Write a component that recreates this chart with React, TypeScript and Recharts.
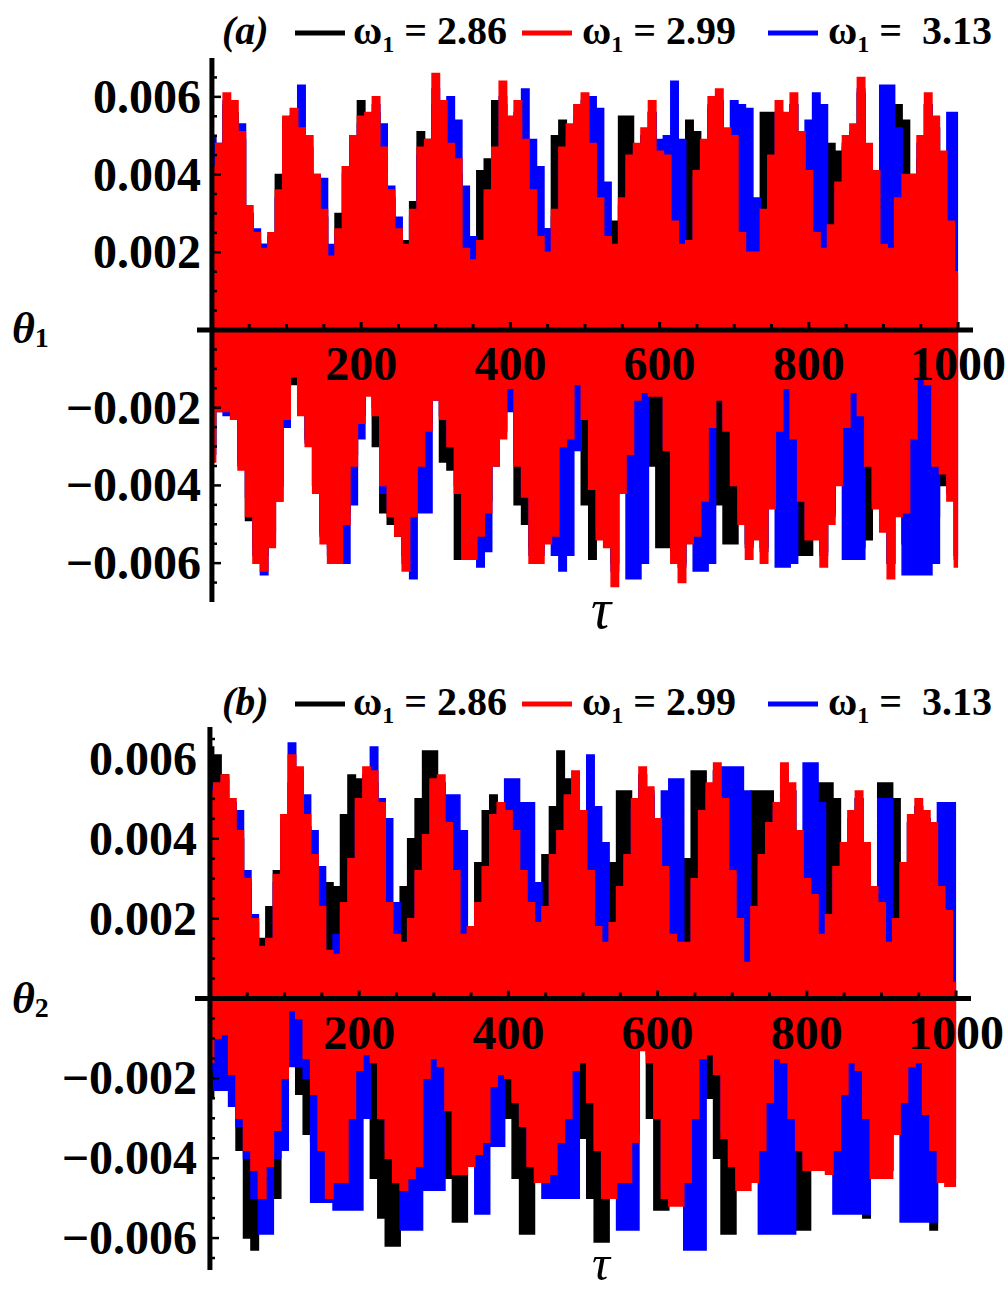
import React from "react";
import { ComposedChart, Area, XAxis, YAxis, ReferenceLine } from "recharts";

// sample times (tau), every 10 units
const tau = [
  0, 10, 20, 30, 40, 50, 60, 70, 80, 90, 100, 110, 120, 130, 140, 150, 160, 170, 180, 190,
  200, 210, 220, 230, 240, 250, 260, 270, 280, 290, 300, 310, 320, 330, 340, 350, 360, 370, 380, 390,
  400, 410, 420, 430, 440, 450, 460, 470, 480, 490, 500, 510, 520, 530, 540, 550, 560, 570, 580, 590,
  600, 610, 620, 630, 640, 650, 660, 670, 680, 690, 700, 710, 720, 730, 740, 750, 760, 770, 780, 790,
  800, 810, 820, 830, 840, 850, 860, 870, 880, 890, 900, 910, 920, 930, 940, 950, 960, 970, 980, 990, 1000,
];

// envelopes of the fast oscillation, in units of 1e-3
// panel (a): theta_1
const blackHiA = [
  5.0, 4.6, 5.8, 5.6, 4.9, 3.0, 2.3, 2.2, 2.4, 4.0, 5.4, 5.5, 5.0, 4.7, 3.8, 2.9, 2.0, 3.0, 4.2, 5.0,
  5.9, 5.5, 5.6, 4.5, 3.4, 2.5, 2.3, 3.3, 5.1, 4.9, 5.8, 5.4, 4.5, 4.0, 2.0, 2.0, 4.1, 4.4, 5.9, 5.8,
  5.3, 5.5, 4.6, 3.4, 2.3, 2.6, 5.0, 5.4, 5.2, 5.4, 5.8, 4.6, 3.2, 2.3, 2.8, 5.5, 5.5, 4.6, 5.0, 5.6,
  4.4, 4.2, 2.6, 3.0, 5.4, 5.1, 4.8, 5.7, 5.9, 5.0, 4.8, 2.4, 2.2, 2.6, 5.6, 5.6, 5.6, 5.3, 5.8, 4.9,
  3.9, 2.4, 2.5, 4.8, 4.6, 4.8, 5.1, 6.1, 4.6, 3.9, 2.1, 2.3, 5.8, 5.4, 4.0, 4.4, 5.8, 5.2, 4.4, 2.7, 1.4,
];
const blackLoA = [
  -3.0, -1.9, -1.6, -2.0, -3.4, -4.9, -5.6, -5.8, -5.2, -4.0, -2.2, -1.4, -2.0, -2.8, -4.0, -5.2, -5.6, -5.6, -4.7, -3.2,
  -2.2, -1.6, -3.0, -4.7, -5.0, -5.3, -5.8, -4.5, -3.2, -2.4, -1.7, -3.4, -3.6, -5.9, -5.6, -5.6, -5.0, -4.4, -3.2, -2.6,
  -1.6, -4.5, -5.0, -5.6, -5.6, -5.2, -5.0, -2.8, -2.6, -1.6, -4.5, -5.9, -5.2, -5.3, -6.0, -4.0, -3.0, -1.7, -1.5, -3.5,
  -5.6, -5.6, -5.6, -6.0, -5.2, -5.0, -4.1, -2.3, -4.5, -5.5, -5.5, -4.8, -5.5, -5.1, -5.6, -4.3, -2.4, -1.4, -4.5, -5.8,
  -5.8, -5.1, -5.7, -4.7, -3.8, -2.4, -3.5, -5.6, -5.4, -4.3, -4.9, -6.0, -4.5, -5.5, -5.5, -1.2, -3.0, -4.8, -4.0, -4.2, -5.8,
];
const redHiA = [
  4.2, 4.8, 6.1, 5.9, 5.1, 3.2, 2.5, 2.1, 2.5, 3.6, 5.5, 5.7, 5.2, 5.0, 4.0, 3.1, 1.9, 2.6, 4.2, 5.0,
  5.5, 5.6, 6.0, 4.7, 3.6, 2.6, 2.2, 3.1, 4.7, 4.9, 6.6, 5.9, 4.8, 4.4, 2.1, 1.8, 2.3, 3.6, 4.7, 6.4,
  5.5, 5.9, 4.9, 3.6, 2.4, 2.0, 3.1, 4.7, 5.3, 5.8, 6.1, 4.8, 3.4, 2.4, 2.2, 3.4, 4.5, 4.8, 5.2, 5.9,
  4.6, 4.5, 2.8, 2.2, 2.3, 4.1, 4.9, 6.0, 6.2, 5.2, 5.0, 2.5, 2.0, 2.0, 3.1, 4.5, 5.9, 5.6, 6.1, 5.1,
  4.1, 2.5, 2.1, 2.7, 3.8, 5.0, 5.3, 6.5, 4.8, 4.1, 2.2, 2.1, 3.4, 4.0, 4.0, 5.0, 6.1, 5.5, 4.6, 2.8, 1.5,
];
const redLoA = [
  -3.4, -2.1, -2.1, -2.3, -3.6, -4.8, -6.0, -6.2, -5.6, -4.4, -2.3, -1.2, -2.2, -3.0, -4.2, -5.5, -6.0, -6.0, -5.0, -3.5,
  -2.4, -1.7, -2.2, -4.0, -4.8, -5.3, -6.2, -4.8, -3.5, -2.6, -1.8, -2.3, -3.0, -4.2, -5.9, -5.9, -5.3, -4.7, -3.5, -2.8,
  -1.5, -3.5, -4.3, -6.0, -6.0, -5.5, -5.3, -3.0, -2.8, -1.4, -2.3, -4.1, -5.4, -5.6, -6.6, -4.2, -3.2, -1.8, -1.6, -1.7,
  -1.7, -3.1, -6.0, -6.5, -5.5, -5.3, -4.4, -2.5, -1.8, -2.6, -4.0, -5.0, -5.9, -5.4, -6.0, -4.6, -2.6, -1.5, -2.8, -4.4,
  -5.4, -5.4, -6.1, -5.0, -4.0, -2.5, -1.6, -2.2, -3.5, -4.6, -5.2, -6.4, -4.8, -4.7, -2.8, -1.2, -1.4, -3.5, -3.7, -4.4, -6.1,
];
const blueHiA = [
  5.0, 4.8, 5.9, 5.4, 5.3, 3.0, 2.6, 2.2, 2.3, 3.4, 5.2, 5.5, 6.3, 5.0, 4.0, 3.9, 2.2, 2.4, 4.0, 4.8,
  5.3, 5.4, 5.8, 5.3, 3.7, 2.9, 2.0, 2.9, 4.5, 4.7, 6.2, 5.6, 6.0, 5.4, 3.7, 2.4, 2.2, 3.4, 4.5, 6.0,
  5.2, 5.6, 6.2, 4.9, 4.2, 2.6, 2.9, 4.5, 5.0, 5.5, 5.9, 6.0, 5.7, 3.8, 2.1, 3.2, 4.3, 4.6, 5.0, 5.6,
  4.9, 5.0, 6.4, 4.9, 2.2, 3.9, 4.7, 5.8, 5.9, 5.0, 5.9, 5.8, 5.7, 3.4, 2.9, 4.3, 5.6, 5.4, 5.8, 4.2,
  5.4, 6.1, 5.8, 2.5, 3.6, 4.7, 5.0, 6.2, 4.5, 3.9, 6.3, 6.3, 5.2, 3.8, 3.8, 4.8, 5.8, 5.2, 4.4, 5.6, 5.6,
];
const blueLoA = [
  -3.2, -2.1, -2.2, -2.2, -3.5, -4.3, -5.8, -6.3, -5.5, -4.4, -2.5, -1.2, -1.3, -2.9, -4.0, -5.3, -5.8, -5.8, -6.0, -4.5,
  -2.8, -1.5, -2.0, -4.2, -4.6, -5.1, -6.0, -6.4, -4.7, -4.7, -1.8, -2.2, -2.9, -4.0, -5.6, -5.6, -6.1, -5.7, -3.5, -2.1,
  -2.1, -3.4, -4.2, -5.8, -5.8, -5.3, -5.8, -6.2, -5.8, -3.1, -2.2, -3.9, -5.2, -5.4, -6.2, -4.0, -6.4, -6.4, -6.0, -1.6,
  -1.6, -3.0, -5.7, -6.1, -5.3, -6.2, -6.2, -6.0, -1.4, -2.5, -3.8, -4.8, -5.6, -5.2, -5.7, -4.5, -6.1, -6.1, -6.0, -4.2,
  -5.2, -5.2, -5.8, -4.8, -3.9, -5.9, -5.9, -5.9, -3.4, -4.4, -5.0, -6.0, -4.6, -6.3, -6.3, -6.3, -6.3, -6.0, -3.6, -4.2, -5.9,
];

// panel (b): theta_2
const blackHiB = [
  6.3, 6.1, 5.6, 4.9, 4.0, 2.9, 1.9, 1.5, 2.3, 3.2, 4.4, 5.4, 5.6, 4.3, 3.4, 2.2, 2.9, 2.8, 4.6, 5.6,
  5.5, 5.6, 5.4, 4.5, 2.3, 1.5, 2.8, 4.0, 5.0, 6.2, 6.2, 5.4, 4.2, 3.0, 1.5, 1.7, 3.4, 4.7, 5.1, 4.7,
  4.5, 4.0, 3.0, 2.2, 1.8, 3.6, 4.8, 6.2, 5.5, 5.5, 4.5, 3.0, 1.7, 1.3, 3.4, 5.2, 5.2, 4.8, 5.6, 5.1,
  4.3, 3.1, 1.5, 1.3, 3.5, 5.7, 5.7, 5.2, 5.7, 4.8, 3.0, 1.9, 1.5, 5.2, 5.2, 5.2, 4.7, 5.6, 5.2, 4.0,
  2.9, 2.5, 5.4, 5.4, 5.0, 3.7, 4.5, 5.0, 3.7, 2.7, 5.4, 5.4, 5.0, 3.3, 4.4, 4.8, 4.5, 4.2, 2.7, 2.1, 0.4,
];
const blackLoB = [
  -2.5, -1.6, -1.4, -2.2, -3.8, -6.0, -6.3, -5.4, -5.0, -5.0, -2.5, -1.2, -2.4, -3.4, -3.6, -4.0, -4.8, -4.4, -4.2, -3.0,
  -1.8, -2.8, -4.5, -5.5, -6.2, -6.2, -4.6, -4.3, -4.0, -1.8, -1.4, -3.0, -4.5, -5.6, -5.6, -4.0, -3.7, -3.4, -2.0, -1.8,
  -3.0, -4.5, -5.9, -5.9, -4.4, -4.4, -4.2, -3.4, -2.8, -1.6, -3.5, -5.0, -6.1, -6.1, -4.8, -4.4, -4.4, -3.4, -1.2, -3.0,
  -5.3, -5.3, -5.0, -5.0, -4.4, -2.8, -1.3, -2.5, -4.0, -5.9, -5.9, -4.6, -4.6, -4.4, -3.6, -2.4, -1.4, -3.0, -4.6, -5.8,
  -5.8, -4.1, -4.1, -4.2, -3.6, -2.2, -3.0, -4.6, -5.5, -4.3, -4.3, -4.3, -3.2, -2.4, -1.5, -3.2, -4.8, -5.8, -4.4, -4.5, -4.5,
];
const redHiB = [
  5.2, 5.4, 5.6, 5.0, 4.2, 3.0, 2.0, 1.3, 1.5, 3.1, 4.6, 6.1, 5.8, 4.6, 3.6, 2.3, 1.2, 1.1, 2.4, 3.5,
  5.0, 5.8, 5.7, 4.9, 2.4, 1.6, 1.4, 2.0, 3.2, 4.1, 5.5, 5.6, 4.4, 3.2, 1.6, 1.8, 2.4, 3.3, 4.6, 4.9,
  4.7, 4.2, 3.2, 2.4, 1.9, 2.3, 3.6, 4.2, 5.1, 5.7, 4.7, 3.2, 1.8, 1.4, 1.9, 2.8, 3.6, 5.0, 5.8, 5.3,
  4.5, 3.3, 1.6, 1.4, 1.4, 3.0, 4.7, 5.4, 5.9, 5.0, 3.2, 2.0, 0.9, 2.3, 3.6, 4.4, 4.9, 5.9, 5.4, 4.2,
  3.0, 2.6, 1.6, 2.1, 3.3, 3.9, 4.7, 5.2, 3.9, 2.8, 2.4, 1.4, 2.0, 3.4, 4.6, 5.0, 4.7, 4.4, 2.8, 2.2, 0.4,
];
const redLoB = [
  -1.6, -1.0, -0.9, -1.9, -3.0, -3.8, -4.3, -5.0, -4.2, -3.3, -2.0, -0.3, -0.5, -1.5, -2.4, -3.8, -5.0, -4.6, -4.6, -3.0,
  -1.8, -1.4, -1.6, -3.0, -4.0, -4.6, -4.8, -4.5, -4.2, -2.0, -1.5, -1.7, -2.8, -4.4, -4.4, -4.2, -3.9, -3.6, -2.2, -1.9,
  -2.0, -2.6, -3.2, -4.2, -4.6, -4.6, -4.4, -3.6, -3.0, -1.8, -1.6, -2.6, -3.8, -5.0, -5.0, -4.6, -4.6, -3.6, -1.3, -1.6,
  -3.0, -5.0, -5.2, -5.2, -4.6, -3.0, -1.5, -1.4, -1.9, -3.5, -4.2, -4.8, -4.8, -4.6, -3.8, -2.6, -1.5, -1.6, -3.0, -3.8,
  -4.3, -4.3, -4.3, -4.4, -3.8, -2.4, -1.6, -1.8, -3.0, -4.5, -4.5, -4.5, -3.4, -2.6, -1.7, -1.6, -2.9, -3.8, -4.6, -4.7, -4.7,
];
const blueHiB = [
  5.3, 5.3, 5.5, 4.9, 4.7, 3.2, 2.1, 1.2, 1.4, 2.9, 4.5, 6.4, 5.7, 5.1, 4.2, 3.3, 1.0, 1.6, 2.2, 3.3,
  4.8, 5.6, 6.3, 5.0, 4.5, 2.4, 1.3, 1.9, 3.0, 4.0, 5.3, 5.4, 5.1, 5.1, 4.2, 1.7, 2.3, 3.2, 4.4, 4.7,
  5.5, 5.5, 4.9, 4.9, 2.9, 2.2, 3.4, 4.0, 5.0, 5.5, 4.6, 6.1, 4.8, 3.9, 1.8, 2.7, 3.5, 4.8, 5.6, 5.2,
  4.4, 5.2, 5.5, 5.5, 1.3, 2.9, 4.5, 5.2, 5.7, 5.8, 5.8, 5.8, 5.2, 2.2, 3.4, 4.2, 4.7, 5.7, 5.2, 4.0,
  5.9, 5.9, 4.9, 2.0, 3.2, 3.8, 4.5, 5.0, 3.8, 2.6, 5.0, 5.0, 1.9, 3.2, 4.4, 4.8, 4.5, 4.2, 4.9, 4.9, 4.9,
];
const blueLoB = [
  -1.8, -2.3, -2.3, -2.7, -3.2, -4.0, -5.0, -5.9, -5.9, -4.0, -3.8, -1.7, -1.7, -2.0, -5.1, -5.1, -5.1, -5.3, -5.3, -5.3,
  -5.3, -3.0, -1.5, -2.8, -3.8, -4.4, -5.8, -5.8, -5.8, -4.8, -4.8, -4.8, -2.6, -4.2, -4.2, -4.0, -5.4, -5.4, -3.7, -3.7,
  -1.8, -2.4, -3.0, -4.0, -4.4, -5.0, -5.0, -5.0, -5.0, -5.0, -1.4, -2.2, -3.6, -4.8, -4.8, -5.8, -5.8, -5.8, -1.2, -1.4,
  -2.8, -4.8, -5.0, -5.0, -6.3, -6.3, -6.3, -1.2, -1.8, -3.3, -4.0, -4.6, -4.6, -4.4, -5.9, -5.9, -5.9, -5.9, -5.9, -3.6,
  -4.1, -4.1, -4.1, -4.2, -5.4, -5.4, -5.4, -5.4, -5.4, -4.3, -4.3, -4.3, -3.2, -5.6, -5.6, -5.6, -5.6, -5.6, -4.4, -4.5, -4.5,
];

const xTicks = [50, 100, 150, 200, 250, 300, 350, 400, 450, 500, 550, 600, 650, 700, 750, 800, 850, 900, 950, 1000];
const yTicks = [
  -0.0065, -0.006, -0.0055, -0.005, -0.0045, -0.004, -0.0035, -0.003, -0.0025, -0.002, -0.0015, -0.001, -0.0005,
  0.0005, 0.001, 0.0015, 0.002, 0.0025, 0.003, 0.0035, 0.004, 0.0045, 0.005, 0.0055, 0.006, 0.0065,
];
const legendItems = [
  { value: "2.86", color: "#000000" },
  { value: "2.99", color: "#ff0000" },
  { value: " 3.13", color: "#0000ff" },
];

const FONT = "'Liberation Serif', 'Times New Roman', serif";

function buildRows(bLo: number[], bHi: number[], rLo: number[], rHi: number[], uLo: number[], uHi: number[]) {
  return tau.map((t, i) => ({
    t,
    black: [bLo[i] / 1000, bHi[i] / 1000],
    red: [rLo[i] / 1000, rHi[i] / 1000],
    blue: [uLo[i] / 1000, uHi[i] / 1000],
  }));
}

const rowsA = buildRows(blackLoA, blackHiA, redLoA, redHiA, blueLoA, blueHiA);
const rowsB = buildRows(blackLoB, blackHiB, redLoB, redHiB, blueLoB, blueHiB);

function fmtY(v: number) {
  const s = Math.abs(v).toFixed(3);
  return v < 0 ? "\u2212" + s : s;
}

function isMajorY(v: number) {
  return Math.round(Math.abs(v) * 10000) % 20 === 0;
}

type PanelProps = {
  rows: any[];
  top: number;
  height: number;
  margin: { top: number; bottom: number; left: number; right: number };
  xAxisHeight: number;
  yMax: number;
  axisX: number;
  zeroY: number;
  labelRight: number;
};

function Panel({ rows, top, height, margin, xAxisHeight, yMax, axisX, zeroY, labelRight }: PanelProps) {
  const yTick = (p: any) => {
    const v = p.payload.value;
    const major = isMajorY(v);
    return (
      <g>
        <line x1={axisX} x2={axisX + (major ? 9 : 5)} y1={p.y} y2={p.y} stroke="#000" strokeWidth={2.5} />
        {major && (
          <text x={labelRight} y={p.y + 16} textAnchor="end" fontFamily={FONT} fontWeight="bold" fontSize={48} fill="#000">
            {fmtY(v)}
          </text>
        )}
      </g>
    );
  };
  const xTick = (p: any) => {
    const v = p.payload.value;
    const major = v % 200 === 0;
    return (
      <g>
        <line x1={p.x} x2={p.x} y1={zeroY} y2={zeroY - (major ? 8 : 6)} stroke="#000" strokeWidth={3} />
        {major && (
          <text x={p.x} y={zeroY + 50} textAnchor="middle" fontFamily={FONT} fontWeight="bold" fontSize={48} fill="#000">
            {v}
          </text>
        )}
      </g>
    );
  };
  return (
    <div style={{ position: "absolute", left: 0, top, width: 1008, height }}>
      <ComposedChart width={1008} height={height} data={rows} margin={margin}>
        <XAxis
          dataKey="t"
          type="number"
          domain={[-20, 1020]}
          ticks={xTicks}
          interval={0}
          height={xAxisHeight}
          axisLine={false}
          tickLine={false}
          tick={xTick}
        />
        <YAxis
          type="number"
          domain={[-yMax, yMax]}
          ticks={yTicks}
          interval={0}
          width={60}
          axisLine={false}
          tickLine={false}
          tick={yTick}
        />
        <Area dataKey="black" type="step" stroke="#000000" strokeWidth={1.5} fill="#000000" fillOpacity={1} dot={false} activeDot={false} isAnimationActive={false} />
        <Area dataKey="blue" type="step" stroke="#0000ff" strokeWidth={1.5} fill="#0000ff" fillOpacity={1} dot={false} activeDot={false} isAnimationActive={false} />
        <Area dataKey="red" type="step" stroke="#ff0000" strokeWidth={1.5} fill="#ff0000" fillOpacity={1} dot={false} activeDot={false} isAnimationActive={false} />
        <ReferenceLine y={0} stroke="#000" strokeWidth={5} />
        <ReferenceLine x={0} stroke="#000" strokeWidth={5} />
      </ComposedChart>
    </div>
  );
}

function Legend({ tag, y }: { tag: string; y: number }) {
  const lineX = [295, 522, 768];
  const textX = [353, 582, 828];
  return (
    <g fontFamily={FONT} fontWeight="bold" fontSize={40} fill="#000">
      <text x={222} y={y} fontStyle="italic">({tag})</text>
      {legendItems.map((it, i) => (
        <g key={i}>
          <line x1={lineX[i]} x2={lineX[i] + 50} y1={y - 11} y2={y - 11} stroke={it.color} strokeWidth={5} />
          <text x={textX[i]} y={y} style={{ whiteSpace: "pre" }}>
            <tspan>ω</tspan>
            <tspan dy={8} fontSize={24}>1</tspan>
            <tspan dy={-8}>{" = " + it.value}</tspan>
          </text>
        </g>
      ))}
    </g>
  );
}

export default function App() {
  return (
    <div style={{ position: "absolute", left: 0, top: 0, width: 1008, height: 1296, background: "#fff", overflow: "hidden" }}>
      <Panel
        rows={rowsA}
        top={0}
        height={648}
        margin={{ top: 58, bottom: 16, left: 137, right: 35 }}
        xAxisHeight={30}
        yMax={0.007}
        axisX={212}
        zeroY={330}
        labelRight={201}
      />
      <Panel
        rows={rowsB}
        top={648}
        height={648}
        margin={{ top: 79, bottom: 0, left: 135, right: 37 }}
        xAxisHeight={26}
        yMax={0.0068}
        axisX={210}
        zeroY={350.5}
        labelRight={197}
      />
      <svg width={1008} height={1296} style={{ position: "absolute", left: 0, top: 0, pointerEvents: "none" }}>
        <Legend tag="a" y={44} />
        <Legend tag="b" y={715} />
        <g fontFamily={FONT} fontWeight="bold" fill="#000">
          <text x={12} y={343} fontSize={44} fontStyle="italic">θ<tspan fontSize={28} fontStyle="normal" dy={4}>1</tspan></text>
          <text x={12} y={1013} fontSize={44} fontStyle="italic">θ<tspan fontSize={28} fontStyle="normal" dy={4}>2</tspan></text>
          <text x={601} y={628} fontSize={56} fontStyle="italic" fontWeight="normal" textAnchor="middle">τ</text>
          <text x={601} y={1280} fontSize={50} fontStyle="italic" fontWeight="normal" textAnchor="middle">τ</text>
        </g>
      </svg>
    </div>
  );
}
